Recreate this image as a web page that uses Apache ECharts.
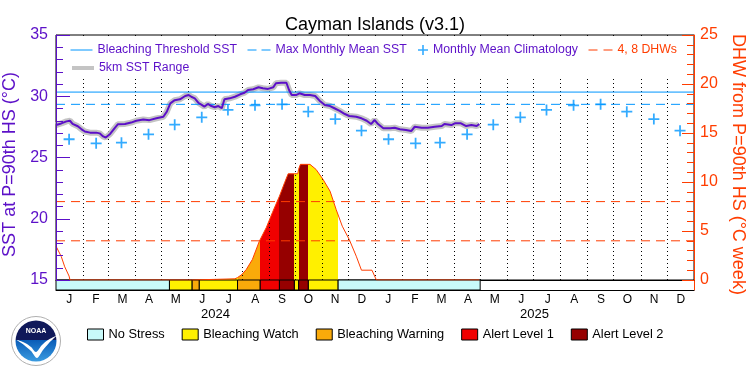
<!DOCTYPE html>
<html>
<head>
<meta charset="utf-8">
<title>Cayman Islands (v3.1)</title>
<script src="https://cdn.jsdelivr.net/npm/echarts@6.0.0/dist/echarts.min.js"></script>
<style>
  html, body { margin: 0; padding: 0; background: #fff; }
  #chart { width: 750px; height: 375px; }
</style>
</head>
<body>
<div id="chart"></div>
<script>
// ---- data ----
var years = ['2024', '2025'];
var monthLetters = ['J', 'F', 'M', 'A', 'M', 'J', 'J', 'A', 'S', 'O', 'N', 'D'];
var climatology = [26.49, 26.16, 26.21, 26.89, 27.68, 28.28, 28.88, 29.26, 29.34, 28.74, 28.14, 27.19];
var mmm = 29.34;
var bleachingThreshold = 30.34;
var dhwLevels = [4, 8];

var sstData = [
  ['2024-01-01', 27.65], ['2024-01-07', 27.78], ['2024-01-13', 27.95], ['2024-01-17', 28.0],
  ['2024-01-20', 27.75], ['2024-01-26', 27.55], ['2024-01-30', 27.32], ['2024-02-03', 27.12],
  ['2024-02-09', 27.03], ['2024-02-16', 27.03], ['2024-02-20', 26.97], ['2024-02-24', 26.72],
  ['2024-02-27', 26.63], ['2024-03-03', 26.92], ['2024-03-08', 27.38], ['2024-03-12', 27.72],
  ['2024-03-20', 27.74], ['2024-03-27', 27.85], ['2024-04-02', 28.0], ['2024-04-10', 28.1],
  ['2024-04-17', 28.05], ['2024-04-25', 28.2], ['2024-05-03', 28.33], ['2024-05-07', 28.74],
  ['2024-05-11', 29.42], ['2024-05-16', 29.68], ['2024-05-22', 29.75], ['2024-05-28', 30.02],
  ['2024-06-01', 30.1], ['2024-06-04', 29.96], ['2024-06-08', 29.83], ['2024-06-12', 29.47],
  ['2024-06-16', 29.29], ['2024-06-19', 29.15], ['2024-06-23', 29.37], ['2024-06-27', 29.2],
  ['2024-07-01', 29.1], ['2024-07-05', 29.2], ['2024-07-09', 29.02], ['2024-07-12', 29.75],
  ['2024-07-18', 29.83], ['2024-07-24', 29.96], ['2024-07-30', 30.16], ['2024-08-04', 30.29],
  ['2024-08-08', 30.51], ['2024-08-14', 30.57], ['2024-08-20', 30.73], ['2024-08-25', 30.65],
  ['2024-08-31', 30.6], ['2024-09-06', 30.73], ['2024-09-09', 31.06], ['2024-09-15', 31.1],
  ['2024-09-21', 31.1], ['2024-09-24', 30.51], ['2024-09-27', 30.1], ['2024-10-02', 30.1],
  ['2024-10-06', 30.24], ['2024-10-12', 30.1], ['2024-10-18', 30.1], ['2024-10-24', 30.02],
  ['2024-10-29', 29.64], ['2024-11-04', 29.29], ['2024-11-10', 29.2], ['2024-11-15', 29.02],
  ['2024-11-21', 28.8], ['2024-11-27', 28.55], ['2024-12-02', 28.39], ['2024-12-10', 28.33],
  ['2024-12-16', 28.2], ['2024-12-22', 28.0], ['2024-12-27', 27.73], ['2024-12-31', 28.06],
  ['2025-01-04', 27.73], ['2025-01-10', 27.38], ['2025-01-18', 27.38], ['2025-01-23', 27.43],
  ['2025-01-29', 27.3], ['2025-02-05', 27.24], ['2025-02-11', 27.16], ['2025-02-15', 27.51],
  ['2025-02-23', 27.43], ['2025-03-02', 27.43], ['2025-03-10', 27.51], ['2025-03-18', 27.57],
  ['2025-03-21', 27.73], ['2025-03-29', 27.65], ['2025-04-02', 27.79], ['2025-04-09', 27.79],
  ['2025-04-15', 27.57], ['2025-04-21', 27.65], ['2025-04-27', 27.57], ['2025-04-30', 27.73]
];

var dhwData = [
  ['2024-01-01', 3.45], ['2024-01-03', 3.3], ['2024-01-07', 2.4], ['2024-01-11', 1.35],
  ['2024-01-16', 0.4], ['2024-01-17', 0], ['2024-06-04', 0], ['2024-06-05', 0.12],
  ['2024-07-24', 0.12], ['2024-07-27', 0.25], ['2024-08-01', 0.56], ['2024-08-06', 1.07],
  ['2024-08-13', 2.09], ['2024-08-21', 3.96], ['2024-08-29', 5.36], ['2024-09-05', 6.89],
  ['2024-09-13', 8.55], ['2024-09-19', 9.95], ['2024-09-23', 10.84], ['2024-10-04', 10.84],
  ['2024-10-05', 11.3], ['2024-10-07', 11.8], ['2024-10-18', 11.8], ['2024-10-25', 11.28],
  ['2024-11-02', 10.26], ['2024-11-10', 9.06], ['2024-11-17', 7.19], ['2024-11-24', 5.49],
  ['2024-12-02', 4.13], ['2024-12-10', 2.43], ['2024-12-16', 1.0], ['2024-12-28', 1.0],
  ['2025-01-01', 0.22], ['2025-01-02', 0], ['2025-04-30', 0]
];

var statusNames = ['No Stress', 'Bleaching Watch', 'Bleaching Warning', 'Alert Level 1', 'Alert Level 2'];
// [from, to, level index into statusNames]
var statusPeriods = [
  ['2024-01-01', '2024-05-10', 0], ['2024-05-10', '2024-06-05', 1], ['2024-06-05', '2024-06-13', 2],
  ['2024-06-13', '2024-07-27', 1], ['2024-07-27', '2024-08-22', 2], ['2024-08-22', '2024-09-13', 3],
  ['2024-09-13', '2024-09-30', 4], ['2024-09-30', '2024-10-05', 1], ['2024-10-05', '2024-10-16', 4],
  ['2024-10-16', '2024-11-19', 1], ['2024-11-19', '2025-05-01', 0]
];

// ---- styling ----
var purple = '#5c10c8';
var orange = '#ff3d00';
var blue = '#0096ff';
var gray = '#c4c4c4';
var statusColors = ['#c8fafa', '#fff000', '#faaa0a', '#f00000', '#960000'];
var xMin = '2024-01-01', xMax = '2026-01-01';

function ts(s) {
  var p = s.split('-');
  return new Date(+p[0], +p[1] - 1, +p[2]).getTime();
}
function pad(n) { return (n < 10 ? '0' : '') + n; }

var sstSeries = sstData.map(function (d) { return [ts(d[0]), d[1]]; });
var dhwSeries = dhwData.map(function (d) { return [ts(d[0]), d[1]]; });

var climSeries = [];
var monthStarts = [];
var monthCategories = [];
years.forEach(function (y) {
  climatology.forEach(function (v, m) {
    climSeries.push([ts(y + '-' + pad(m + 1) + '-16'), v]);
    monthCategories.push(y + '-' + m);
    if (!(y === years[0] && m === 0)) monthStarts.push(ts(y + '-' + pad(m + 1) + '-01'));
  });
});

var dhwLevelLines = [];
dhwLevels.forEach(function (v) {
  dhwLevelLines.push([ts(xMin), v], [ts(xMax), v], [ts(xMax), '-']);
});

var alertPieces = statusPeriods.filter(function (p) { return p[2] > 0; }).map(function (p) {
  return { gte: ts(p[0]), lt: ts(p[1]), color: statusColors[p[2]] };
});

function renderStatus(params, api) {
  var a = api.coord([api.value(0), 1]);
  var b = api.coord([api.value(1), 0]);
  return {
    type: 'rect',
    shape: { x: a[0], y: a[1], width: b[0] - a[0], height: b[1] - a[1] },
    style: { fill: api.visual('color'), stroke: '#000', lineWidth: 1 }
  };
}

var statusSeries = statusNames.map(function (name, level) {
  return {
    name: name,
    type: 'custom',
    xAxisIndex: 1,
    yAxisIndex: 2,
    itemStyle: { color: statusColors[level] },
    encode: { x: [0, 1] },
    renderItem: renderStatus,
    data: statusPeriods.filter(function (p) { return p[2] === level; }).map(function (p) {
      return [ts(p[0]), ts(p[1])];
    })
  };
});

// legend for a line series: only the line, no marker
function lineLegend(name, left, top, width, textColor, lineStyle) {
  return {
    left: left, top: top, padding: 0, itemWidth: width, itemHeight: 10, selectedMode: false,
    itemStyle: { opacity: 0 }, lineStyle: lineStyle,
    textStyle: { color: textColor, fontSize: 12.3 },
    data: [name]
  };
}

var chart = echarts.init(document.getElementById('chart'), null, { renderer: 'canvas' });

var option = {
  animation: false,
  backgroundColor: '#fff',
  textStyle: { fontFamily: 'Liberation Sans' },
  title: {
    text: 'Cayman Islands (v3.1)',
    left: 'center',
    top: 11,
    textStyle: { fontSize: 18, fontWeight: 'normal', color: '#000', fontFamily: 'Liberation Sans' }
  },
  grid: [
    { left: 56, right: 56, top: 35, height: 245, show: true, borderColor: '#000', borderWidth: 1,
      backgroundColor: 'transparent', outerBoundsMode: 'none' },
    { left: 56, right: 56, top: 280, height: 10, outerBoundsMode: 'none' }
  ],
  xAxis: [
    {
      type: 'time', gridIndex: 0, min: ts(xMin), max: ts(xMax), position: 'bottom', z: 1.5,
      axisLine: { show: false, onZero: false },
      axisLabel: { show: false },
      axisTick: { show: false, customValues: monthStarts },
      splitLine: { show: true, lineStyle: { color: '#000', width: 1, type: [1, 3] } }
    },
    {
      type: 'time', gridIndex: 1, min: ts(xMin), max: ts(xMax), position: 'top',
      axisLine: { show: true, onZero: false, lineStyle: { color: '#000', width: 1 } },
      axisLabel: { show: false }, axisTick: { show: false }, splitLine: { show: false }
    },
    {
      type: 'category', gridIndex: 1, position: 'bottom', data: monthCategories, boundaryGap: true,
      axisLine: { show: true, onZero: false, lineStyle: { color: '#000', width: 1 } },
      axisTick: { show: false }, splitLine: { show: false },
      axisLabel: {
        interval: 0, margin: 4, fontSize: 12, color: '#000',
        formatter: function (v) { return monthLetters[+v.split('-')[1]]; }
      }
    },
    {
      type: 'category', gridIndex: 1, position: 'bottom', data: years, boundaryGap: true,
      axisLine: { show: false, onZero: false }, axisTick: { show: false }, splitLine: { show: false },
      axisLabel: { interval: 0, margin: 18, fontSize: 13, color: '#000' }
    }
  ],
  yAxis: [
    {
      type: 'value', gridIndex: 0, position: 'left', min: 15, max: 35, interval: 5, z: 4,
      name: 'SST at P=90th HS (°C)', nameLocation: 'middle', nameGap: 30, nameRotate: 90,
      nameTextStyle: { color: purple, fontSize: 18, padding: [0, 14, 0, 0] },
      axisLine: { show: true, lineStyle: { color: purple, width: 1 } },
      axisTick: { show: true, inside: true, length: 14, lineStyle: { color: purple } },
      minorTick: { show: true, splitNumber: 5, length: 7, lineStyle: { color: purple } },
      axisLabel: { color: purple, fontSize: 16, margin: 8 },
      splitLine: { show: false }
    },
    {
      type: 'value', gridIndex: 0, position: 'right', min: 0, max: 25, interval: 5, z: 4,
      name: 'DHW from P=90th HS (°C week)', nameLocation: 'middle', nameGap: 27, nameRotate: -90,
      nameTextStyle: { color: orange, fontSize: 18, padding: [0, 0, 0, 14] },
      axisLine: { show: true, lineStyle: { color: orange, width: 1 } },
      axisTick: { show: true, inside: true, length: 12, lineStyle: { color: orange } },
      minorTick: { show: true, splitNumber: 5, length: 7, lineStyle: { color: orange } },
      axisLabel: { color: orange, fontSize: 16, margin: 6 },
      splitLine: { show: false }
    },
    {
      type: 'value', gridIndex: 1, position: 'left', min: 0, max: 1,
      axisLine: { show: true, lineStyle: { color: purple, width: 1 } },
      axisTick: { show: false }, axisLabel: { show: false }, splitLine: { show: false }
    },
    {
      type: 'value', gridIndex: 1, position: 'right', min: 0, max: 1,
      axisLine: { show: true, lineStyle: { color: orange, width: 1 } },
      axisTick: { show: false }, axisLabel: { show: false }, splitLine: { show: false }
    }
  ],
  visualMap: {
    show: false,
    type: 'piecewise',
    seriesIndex: 0,
    dimension: 0,
    pieces: alertPieces,
    outOfRange: { color: 'rgba(0,0,0,0)' }
  },
  legend: [
    lineLegend('Bleaching Threshold SST', 70, 44, 22, purple, { width: 1, type: 'solid' }),
    lineLegend('Max Monthly Mean SST', 247, 44, 23, purple, { width: 1, type: [9, 5] }),
    {
      left: 418, top: 44, padding: 0, itemWidth: 10, itemHeight: 10, selectedMode: false,
      textStyle: { color: purple, fontSize: 12.3 },
      data: ['Monthly Mean Climatology']
    },
    lineLegend('4, 8 DHWs', 588, 44, 24, orange, { width: 1, type: [9, 6] }),
    lineLegend('5km SST Range', 70, 62, 22, purple, { width: 4, type: 'solid' }),
    {
      left: 87, top: 328, padding: 0, itemWidth: 16, itemHeight: 11, itemGap: 17, icon: 'rect',
      selectedMode: false, itemStyle: { borderColor: '#000', borderWidth: 1 },
      textStyle: { color: '#000', fontSize: 12.8 },
      data: statusNames
    }
  ],
  graphic: [
    // white box behind the legend, over the dotted month lines
    { type: 'rect', z: 3, silent: true, shape: { x: 57, y: 36, width: 636, height: 42 }, style: { fill: '#fff' } },
    {
      type: 'group', left: 11, top: 316, silent: true,
      children: [
        { type: 'circle', shape: { cx: 25, cy: 25, r: 24.5 }, style: { fill: '#fff', stroke: '#b0b0b0', lineWidth: 1 } },
        { type: 'circle', shape: { cx: 25, cy: 25, r: 20.5 },
          style: { fill: new echarts.graphic.LinearGradient(0, 0, 0, 1, [
            { offset: 0, color: '#10195a' }, { offset: 0.48, color: '#10195a' },
            { offset: 0.48, color: '#0a5db8' }, { offset: 1, color: '#3a9be0' }]) } },
        { type: 'polygon', shape: { smooth: 0.3, points: [[6, 24], [14, 27], [20, 31], [25, 36], [31, 29], [37, 24], [45, 20],
          [38, 27], [32, 34], [26, 42], [20, 35], [13, 29]] }, style: { fill: '#fff' } },
        { type: 'text', style: { text: 'NOAA', x: 25, y: 15, align: 'center', verticalAlign: 'middle',
          fill: '#fff', font: 'bold 7px "Liberation Sans"' } }
      ]
    }
  ],
  series: [
    {
      name: 'DHW fill', type: 'line', xAxisIndex: 0, yAxisIndex: 1, data: dhwSeries,
      symbol: 'none', silent: true, z: 1,
      lineStyle: { width: 0 }, areaStyle: { opacity: 1 }
    },
    {
      name: '5km SST Range', type: 'line', xAxisIndex: 0, yAxisIndex: 0, data: sstSeries,
      symbol: 'none', lineStyle: { color: gray, width: 6 }, itemStyle: { color: gray }
    },
    {
      name: 'Bleaching Threshold SST', type: 'line', xAxisIndex: 0, yAxisIndex: 0,
      data: [[ts(xMin), bleachingThreshold], [ts(xMax), bleachingThreshold]],
      symbol: 'none', lineStyle: { color: blue, width: 1 }, itemStyle: { color: blue }
    },
    {
      name: 'Max Monthly Mean SST', type: 'line', xAxisIndex: 0, yAxisIndex: 0,
      data: [[ts(xMin), mmm], [ts(xMax), mmm]],
      symbol: 'none', lineStyle: { color: blue, width: 1, type: [9, 6] }, itemStyle: { color: blue }
    },
    {
      name: '4, 8 DHWs', type: 'line', xAxisIndex: 0, yAxisIndex: 1, data: dhwLevelLines,
      symbol: 'none', lineStyle: { color: orange, width: 1, type: [9, 6] }, itemStyle: { color: orange }
    },
    {
      name: 'Monthly Mean Climatology', type: 'scatter', xAxisIndex: 0, yAxisIndex: 0, data: climSeries,
      symbol: 'path://M4.2,0h1.6v10h-1.6zM0,4.2h10v1.6h-10z', symbolSize: 11,
      itemStyle: { color: blue }
    },
    {
      name: 'SST', type: 'line', xAxisIndex: 0, yAxisIndex: 0, data: sstSeries,
      symbol: 'none', lineStyle: { color: purple, width: 2 }, itemStyle: { color: purple }
    },
    {
      name: 'DHW', type: 'line', xAxisIndex: 0, yAxisIndex: 1, data: dhwSeries,
      symbol: 'none', lineStyle: { color: orange, width: 1 }, itemStyle: { color: orange }
    }
  ].concat(statusSeries)
};

chart.setOption(option);
</script>
</body>
</html>
